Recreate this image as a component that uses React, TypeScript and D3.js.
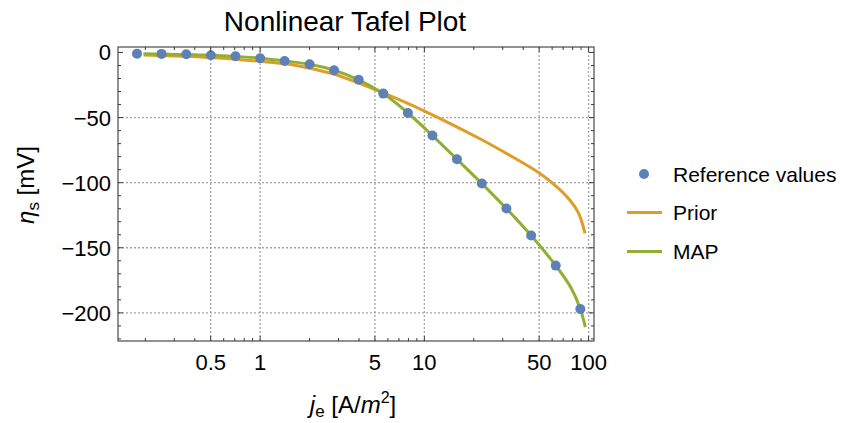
import React from "react";
import * as d3 from "d3";

// Reference values (current density in A/m², overpotential in mV)
const refJ = [0.178, 0.251, 0.355, 0.501, 0.708, 1.0, 1.41, 2.0, 2.82, 3.98, 5.62, 7.94, 11.2, 15.8, 22.4, 31.6, 44.7, 63.1, 89.1];
const refEta = [-0.9, -1.1, -1.4, -2.1, -2.9, -4.4, -6.5, -9.1, -13.7, -21.0, -31.6, -46.5, -63.8, -82.0, -100.7, -119.9, -140.6, -163.7, -197.0];

// Prior curve
const priorJ = [0.195, 0.355, 0.501, 0.708, 1.0, 1.42, 2.0, 2.82, 3.96, 5.6, 9.8, 21.8, 34.7, 50.6, 64, 77, 86.6, 92.9, 95.1];
const priorEta = [-1.9, -2.9, -3.9, -5.2, -6.8, -8.7, -12.1, -16.7, -23.3, -31.0, -44.4, -66.3, -80.5, -93.0, -103.3, -113.5, -123.0, -134.0, -139.0];

// MAP curve
const mapJ = [0.195, 0.251, 0.355, 0.501, 0.708, 1.0, 1.41, 2.0, 2.82, 3.98, 5.62, 7.94, 11.2, 15.8, 22.4, 31.6, 44.7, 63.1, 78, 89.1, 95.5];
const mapEta = [-1.0, -1.2, -1.5, -2.2, -3.0, -4.4, -6.5, -9.1, -13.7, -21.0, -31.6, -46.5, -63.8, -82.0, -100.7, -119.9, -140.6, -163.7, -180.5, -197.0, -211.0];

// Axis ticks
const xMajor = [0.5, 1, 5, 10, 50, 100];
const xMajorLabels = ["0.5", "1", "5", "10", "50", "100"];
const xMinor = [0.2, 0.3, 0.4, 0.6, 0.7, 0.8, 0.9, 2, 3, 4, 6, 7, 8, 9, 20, 30, 40, 60, 70, 80, 90];
const yMajor = [0, -50, -100, -150, -200];
const yMinorStep = 10;
const yGrid = [-50, -100, -150, -200];

const legendNames = ["Reference values", "Prior", "MAP"];

const C_POINT = "#5E81B5";
const C_PRIOR = "#E19C24";
const C_MAP = "#8FB032";
const FONT = "'Liberation Sans', Arial, sans-serif";

export default function App() {
  const W = 848, H = 423;
  const L = 118, R = 594, T = 47, B = 341;
  const x = d3.scaleLog().domain([0.1363, 107.9]).range([L, R]);
  const y = d3.scaleLinear().domain([4.2, -221.6]).range([T, B]);

  const line = d3
    .line<[number, number]>()
    .x((d) => x(d[0]))
    .y((d) => y(d[1]))
    .curve(d3.curveCatmullRom.alpha(0.5));

  const priorPts = priorJ.map((j, i) => [j, priorEta[i]] as [number, number]);
  const mapPts = mapJ.map((j, i) => [j, mapEta[i]] as [number, number]);

  const yMinor: number[] = [];
  for (let v = 0; v >= -220; v -= yMinorStep) if (v % 50 !== 0) yMinor.push(v);

  const frame = "#3a3a3a";
  const major = 5, minor = 3;

  return (
    <svg width={W} height={H} style={{ display: "block", position: "absolute", left: 0, top: 0 }}>
      <rect x={0} y={0} width={W} height={H} fill="#fff" />
      {/* title */}
      <text x={345} y={31} textAnchor="middle" fontFamily={FONT} fontSize={28} fill="#000">
        Nonlinear Tafel Plot
      </text>

      {/* grid */}
      <g stroke="#a4a4a4" strokeWidth={1.3} strokeDasharray="2,2">
        {xMajor.map((v) => (
          <line key={"gx" + v} x1={x(v)} x2={x(v)} y1={T} y2={B} />
        ))}
        {yGrid.map((v) => (
          <line key={"gy" + v} x1={L} x2={R} y1={y(v)} y2={y(v)} />
        ))}
      </g>

      {/* curves */}
      <path d={line(priorPts) ?? ""} fill="none" stroke={C_PRIOR} strokeWidth={3} />
      <path d={line(mapPts) ?? ""} fill="none" stroke={C_MAP} strokeWidth={3} />

      {/* reference points */}
      {refJ.map((j, i) => (
        <circle key={"p" + i} cx={x(j)} cy={y(refEta[i])} r={5} fill={C_POINT} />
      ))}

      {/* frame */}
      <rect x={L} y={T} width={R - L} height={B - T} fill="none" stroke={frame} strokeWidth={1.1} />
      <g stroke={frame} strokeWidth={1}>
        {xMajor.map((v) => (
          <g key={"tx" + v}>
            <line x1={x(v)} x2={x(v)} y1={B} y2={B - major} />
            <line x1={x(v)} x2={x(v)} y1={T} y2={T + major} />
          </g>
        ))}
        {xMinor.map((v) => (
          <g key={"tmx" + v}>
            <line x1={x(v)} x2={x(v)} y1={B} y2={B - minor} />
            <line x1={x(v)} x2={x(v)} y1={T} y2={T + minor} />
          </g>
        ))}
        {yMajor.map((v) => (
          <g key={"ty" + v}>
            <line x1={L} x2={L + major} y1={y(v)} y2={y(v)} />
            <line x1={R} x2={R - major} y1={y(v)} y2={y(v)} />
          </g>
        ))}
        {yMinor.map((v) => (
          <g key={"tmy" + v}>
            <line x1={L} x2={L + minor} y1={y(v)} y2={y(v)} />
            <line x1={R} x2={R - minor} y1={y(v)} y2={y(v)} />
          </g>
        ))}
      </g>

      {/* tick labels */}
      <g fontFamily={FONT} fontSize={22} fill="#000">
        {xMajor.map((v, i) => (
          <text key={"lx" + v} x={x(v)} y={370} textAnchor="middle">
            {xMajorLabels[i]}
          </text>
        ))}
        {yMajor.map((v) => (
          <text key={"ly" + v} x={111} y={y(v) + 8} textAnchor="end">
            {v < 0 ? "\u2212" + Math.abs(v) : String(v)}
          </text>
        ))}
      </g>

      {/* axis labels */}
      <text x={353} y={413} textAnchor="middle" fontFamily={FONT} fontSize={24} fill="#000">
        <tspan fontStyle="italic">j</tspan>
        <tspan fontSize={17} dy={4}>e</tspan>
        <tspan dy={-4}> [A/</tspan>
        <tspan fontStyle="italic">m</tspan>
        <tspan fontSize={16} dy={-10}>2</tspan>
        <tspan dy={10}>]</tspan>
      </text>
      <text
        transform="translate(34,185) rotate(-90)"
        textAnchor="middle"
        fontFamily={FONT}
        fontSize={24}
        fill="#000"
      >
        <tspan fontStyle="italic">η</tspan>
        <tspan fontSize={17} dy={5}>s</tspan>
        <tspan dy={-5}> [mV]</tspan>
      </text>

      {/* legend */}
      <g fontFamily={FONT} fontSize={21} fill="#000">
        <circle cx={644} cy={174} r={5} fill={C_POINT} />
        <text x={673} y={181.5}>{legendNames[0]}</text>
        <line x1={627} x2={662} y1={212.5} y2={212.5} stroke={C_PRIOR} strokeWidth={3} />
        <text x={673} y={220}>{legendNames[1]}</text>
        <line x1={627} x2={662} y1={251.5} y2={251.5} stroke={C_MAP} strokeWidth={3} />
        <text x={673} y={259}>{legendNames[2]}</text>
      </g>
    </svg>
  );
}
